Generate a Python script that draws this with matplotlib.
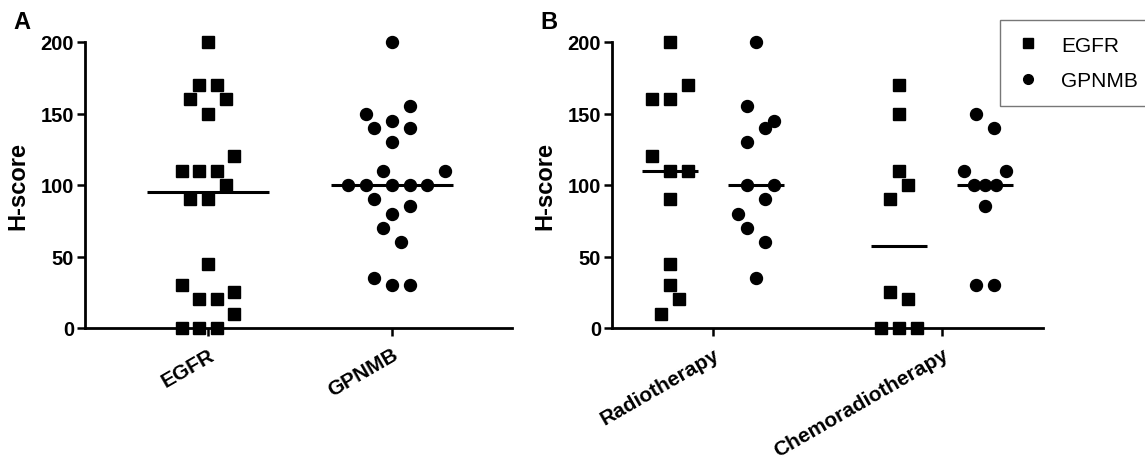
import matplotlib
matplotlib.use("Agg")
import matplotlib.pyplot as plt
from matplotlib.lines import Line2D

plt.rcParams['font.family'] = ['Liberation Sans', 'DejaVu Sans']

# Panel A: all samples
egfr_all = [200, 170, 170, 160, 160, 150, 120, 110, 110, 110, 100, 90, 90,
            45, 30, 25, 20, 20, 10, 0, 0, 0]
gpnmb_all = [200, 155, 150, 145, 140, 140, 130, 110, 110, 100, 100, 100, 100, 100,
             90, 85, 80, 70, 60, 35, 30, 30]

# Panel B: by treatment
egfr_radio = [200, 170, 160, 160, 120, 110, 110, 90, 45, 30, 20, 10]
gpnmb_radio = [200, 155, 145, 140, 130, 100, 100, 90, 80, 70, 60, 35]
egfr_chemo = [170, 150, 110, 100, 90, 25, 20, 0, 0, 0]
gpnmb_chemo = [150, 140, 110, 110, 100, 100, 100, 85, 30, 30]

# horizontal scatter spread of each point (in half marker widths)
jit_egfr_all = [0, -1, 1, -2, 2, 0, 3, -3, -1, 1, 2, -2, 0,
                0, -3, 3, -1, 1, 3, -3, -1, 1]
jit_gpnmb_all = [0, 2, -3, 0, -2, 2, 0, -1, 6, -5, -3, 0, 2, 4,
                 -2, 2, 0, -1, 1, -2, 0, 2]
jit_egfr_radio = [0, 2, -2, 0, -2, 0, 2, 0, 0, 0, 1, -1]
jit_gpnmb_radio = [0, -1, 2, 1, -1, -1, 2, 1, -2, -1, 1, 0]
jit_egfr_chemo = [0, 0, 0, 1, -1, -1, 1, -2, 0, 2]
jit_gpnmb_chemo = [-1, 1, -2.4, 2.4, -1.25, 0, 1.25, 0, -1, 1]

cats_a = ['EGFR', 'GPNMB']
cats_b = ['Radiotherapy', 'Chemoradiotherapy']

W, H = 1145, 460
fig = plt.figure(figsize=(W / 100, H / 100), dpi=100)

axA = fig.add_axes([85 / W, 1 - 329 / H, (512 - 85) / W, 286 / H])
axB = fig.add_axes([612 / W, 1 - 329 / H, (1043 - 612) / W, 286 / H])
axA.set_xlim(0.3315, 2.652)
axB.set_xlim(0.559, 2.441)

HALF_PX = 8.8


def px_to_data(ax, px):
    x0, x1 = ax.get_xlim()
    return px * (x1 - x0) / (ax.get_position().width * W)


def median(vals):
    s = sorted(vals)
    n = len(s)
    return s[n // 2] if n % 2 else (s[n // 2 - 1] + s[n // 2]) / 2


def plot_group(ax, center, vals, jit, marker, half_line_px):
    step = px_to_data(ax, HALF_PX)
    xs = [center + j * step for j in jit]
    ax.plot(xs, vals, linestyle='none', marker=marker, markersize=8.6,
            color='black', clip_on=False, zorder=5)
    hw = px_to_data(ax, half_line_px)
    m = median(vals)
    ax.plot([center - hw, center + hw], [m, m], color='black', lw=2.2,
            solid_capstyle='butt', clip_on=False, zorder=4)


plot_group(axA, 1, egfr_all, jit_egfr_all, 's', 61)
plot_group(axA, 2, gpnmb_all, jit_gpnmb_all, 'o', 61)

offB = px_to_data(axB, 43)
plot_group(axB, 1 - offB, egfr_radio, jit_egfr_radio, 's', 28)
plot_group(axB, 1 + offB, gpnmb_radio, jit_gpnmb_radio, 'o', 28)
plot_group(axB, 2 - offB, egfr_chemo, jit_egfr_chemo, 's', 28)
plot_group(axB, 2 + offB, gpnmb_chemo, jit_gpnmb_chemo, 'o', 28)

for ax, cats in ((axA, cats_a), (axB, cats_b)):
    ax.set_ylim(0, 200)
    ax.set_yticks([0, 50, 100, 150, 200])
    ax.set_xticks([1, 2])
    ax.set_xticklabels(cats, rotation=30, ha='right', rotation_mode='anchor',
                       fontweight='bold', fontsize=15)
    for lab in ax.get_yticklabels():
        lab.set_fontweight('bold')
        lab.set_fontsize(14.5)
    ax.spines['top'].set_visible(False)
    ax.spines['right'].set_visible(False)
    ax.spines['left'].set_linewidth(2)
    ax.spines['bottom'].set_linewidth(2)
    ax.tick_params(axis='both', width=1.8, length=6, pad=2, color='black')
    ax.tick_params(axis='x', pad=6)
    ax.set_ylabel('H-score', fontweight='bold', fontsize=17, labelpad=8)

fig.text(13 / W, 1 - 29 / H, 'A', fontsize=17, fontweight='bold')
fig.text(540 / W, 1 - 29 / H, 'B', fontsize=17, fontweight='bold')

handles = [Line2D([], [], linestyle='none', marker='s', markersize=7, color='black'),
           Line2D([], [], linestyle='none', marker='o', markersize=7, color='black')]
leg = fig.legend(handles, ['EGFR', 'GPNMB'], loc='upper left',
                 bbox_to_anchor=(1000 / W, 1 - 21 / H), fontsize=15,
                 frameon=True, fancybox=False, borderaxespad=0,
                 handlelength=1.2, handletextpad=1.0, labelspacing=0.8,
                 borderpad=0.75)
leg.get_frame().set_edgecolor('#555555')
leg.get_frame().set_linewidth(1)

fig.savefig('out.png', dpi=100)
